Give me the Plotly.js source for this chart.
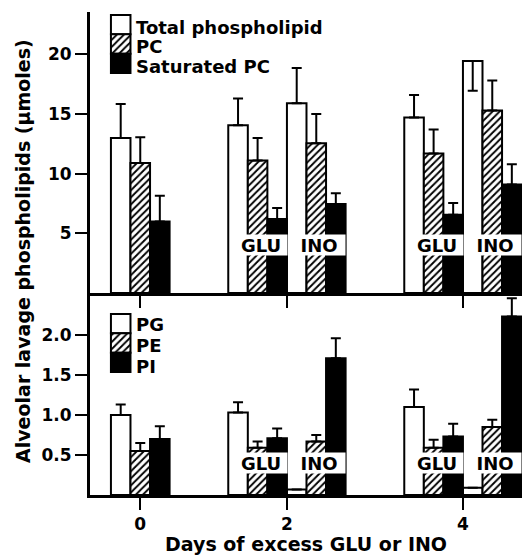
<!DOCTYPE html>
<html><head><meta charset="utf-8">
<script src="https://cdn.plot.ly/plotly-3.0.1.min.js"></script>
<style>html,body{margin:0;padding:0;background:#fff}</style>
</head><body><div id="chart" style="width:522px;height:556px"></div>
<script>
// ---- data ----
const groups = ["0", "2 GLU", "2 INO", "4 GLU", "4 INO"];
const days = [0, 2, 2, 4, 4];
const treatment = ["", "GLU", "INO", "GLU", "INO"];
const dayTicks = [0, 2, 4];

const topNames = ["Total phospholipid", "PC", "Saturated PC"];
const totalPL = [13.0, 14.05, 15.9, 14.7, 19.45];
const totalPLErrUp = [2.85, 2.25, 2.95, 1.9, 0];
const totalPLErrDown = [0, 0, 0, 0, 2.5];
const pc = [10.9, 11.1, 12.55, 11.7, 15.3];
const pcErr = [2.15, 1.9, 2.45, 2.0, 2.5];
const satPC = [6.0, 6.2, 7.45, 6.55, 9.1];
const satPCErr = [2.15, 0.92, 0.9, 1.0, 1.7];

const bottomNames = ["PG", "PE", "PI"];
const pg = [1.0, 1.03, 0.07, 1.1, 0.09];
const pgErr = [0.13, 0.13, 0, 0.22, 0];
const pe = [0.55, 0.59, 0.67, 0.59, 0.85];
const peErr = [0.1, 0.08, 0.08, 0.1, 0.09];
const pi = [0.7, 0.71, 1.71, 0.73, 2.23];
const piErr = [0.16, 0.12, 0.25, 0.16, 0.23];

const topTicks = [5, 10, 15, 20];
const bottomTicks = [0.5, 1.0, 1.5, 2.0];

// ---- layout geometry ----
const W = 522, H = 556;
const ML = 90, MR = 0, MT = 12, MB = 61;
const PLOT_BOTTOM = H - MB, SPLIT = 293;
const TOP_MAX = 23.55, BOT_MAX = 2.525;
const XR = [-2.57, 19.52];
const split = (PLOT_BOTTOM - SPLIT) / (H - MT - MB);

function slot(i) { return days[i] * 4.5 + (treatment[i] === 'GLU' ? -3 : 0); }
function tickPos(d) { return d === 0 ? 0 : d * 4.5 - 1.5; }
function topY(px) { return (SPLIT - px) / (SPLIT - MT) * TOP_MAX; }
function botY(px) { return (PLOT_BOTTOM - px) / (PLOT_BOTTOM - SPLIT) * BOT_MAX; }
function pxX(px) { return (px - ML) / (W - ML - MR); }
function pxY(px) { return (PLOT_BOTTOM - px) / (H - MT - MB); }

const edge = {color: 'black', width: 2};
const styles = [
  {color: 'white', line: edge},
  {color: 'white', line: edge, pattern: {shape: '/', fgcolor: 'black', bgcolor: 'white', size: 5, solidity: 0.38}},
  {color: 'black', line: edge}
];
const errStyle = {color: 'black', thickness: 2, width: 5};

function barTrace(vals, up, down, k, xa, ya) {
  return {
    type: 'bar', x: vals.map((v, i) => slot(i) + (k - 1)), y: vals, width: 1,
    xaxis: xa, yaxis: ya, marker: styles[k], hoverinfo: 'skip',
    error_y: Object.assign({type: 'data', symmetric: false, array: up, arrayminus: down || vals.map(() => 0), visible: true}, errStyle)
  };
}

const traces = [
  barTrace(totalPL, totalPLErrUp, totalPLErrDown, 0, 'x2', 'y2'),
  barTrace(pc, pcErr, null, 1, 'x2', 'y2'),
  barTrace(satPC, satPCErr, null, 2, 'x2', 'y2'),
  barTrace(pg, pgErr, null, 0, 'x', 'y'),
  barTrace(pe, peErr, null, 1, 'x', 'y'),
  barTrace(pi, piErr, null, 2, 'x', 'y')
];

// legend swatches (stacked boxes)
function swatches(topPx, botPx, conv, xa, ya) {
  const h = (botPx - topPx) / 3;
  for (let k = 0; k < 3; k++) {
    const b = conv(topPx + (k + 1) * h), t = conv(topPx + k * h);
    traces.push({type: 'bar', x: [-1], y: [t - b], base: [b], width: 1, xaxis: xa, yaxis: ya,
      marker: styles[k], hoverinfo: 'skip'});
  }
}
swatches(15, 73, topY, 'x2', 'y2');
swatches(314, 372, botY, 'x', 'y');

const annotations = [];
const lblFont = {family: 'DejaVu Sans', size: 18, color: 'black', weight: 'bold'};
const titleFont = {family: 'DejaVu Sans', size: 19, color: 'black', weight: 'bold'};
topNames.forEach((n, k) => annotations.push({xref: 'paper', yref: 'paper', x: pxX(134), y: pxY(28 + 19 * k),
  xanchor: 'left', yanchor: 'middle', text: n, showarrow: false, font: lblFont}));
bottomNames.forEach((n, k) => annotations.push({xref: 'paper', yref: 'paper', x: pxX(134), y: pxY(325 + 20.5 * k),
  xanchor: 'left', yanchor: 'middle', text: n, showarrow: false, font: lblFont}));

groups.forEach((g, i) => {
  if (!treatment[i]) return;
  [['x2', 'y2', topY(245)], ['x', 'y', botY(463)]].forEach(([xa, ya, yv]) => {
    annotations.push({xref: xa, yref: ya, x: slot(i) + 0.15, y: yv, text: treatment[i], showarrow: false,
      bgcolor: 'white', width: 52, height: 20, borderpad: 0, font: lblFont, xanchor: 'center', yanchor: 'middle'});
  });
});

annotations.push({xref: 'paper', yref: 'paper', x: pxX(306), y: pxY(544), text: 'Days of excess GLU or INO',
  showarrow: false, xanchor: 'center', yanchor: 'middle', font: titleFont});
annotations.push({xref: 'paper', yref: 'paper', x: pxX(23), y: pxY(251), text: 'Alveolar lavage phospholipids (\u03bcmoles)',
  textangle: -90, showarrow: false, xanchor: 'center', yanchor: 'middle', font: titleFont});

const axCommon = {showline: true, linecolor: 'black', linewidth: 3, ticks: 'outside', ticklen: 12, tickwidth: 2,
  tickcolor: 'black', showgrid: false, zeroline: false, fixedrange: true,
  tickfont: {family: 'DejaVu Sans', size: 17, color: 'black', weight: 'bold'}};

const layout = {
  width: W, height: H, margin: {l: ML, r: MR, t: MT, b: MB, pad: 0},
  paper_bgcolor: 'white', plot_bgcolor: 'white', barmode: 'overlay', showlegend: false,
  font: {family: 'DejaVu Sans', size: 17, color: 'black'},
  xaxis: Object.assign({}, axCommon, {anchor: 'y', range: XR, tickmode: 'array',
    tickvals: dayTicks.map(tickPos), ticktext: dayTicks.map(String)}),
  xaxis2: Object.assign({}, axCommon, {anchor: 'y2', matches: 'x', range: XR, tickmode: 'array',
    tickvals: dayTicks.map(tickPos), showticklabels: false}),
  yaxis: Object.assign({}, axCommon, {domain: [0, split], range: [0, BOT_MAX], tickmode: 'array',
    tickvals: bottomTicks, ticktext: bottomTicks.map(v => v.toFixed(1))}),
  yaxis2: Object.assign({}, axCommon, {domain: [split, 1], range: [0, TOP_MAX], tickmode: 'array',
    tickvals: topTicks, ticktext: topTicks.map(String)}),
  annotations: annotations
};

Plotly.newPlot('chart', traces, layout, {staticPlot: true, displayModeBar: false});
</script></body></html>
